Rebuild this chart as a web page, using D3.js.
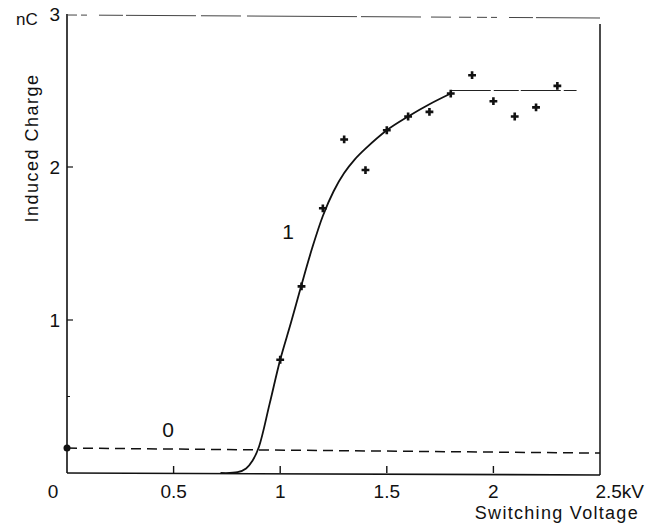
<!DOCTYPE html>
<html lang="en">
<head>
  <meta charset="UTF-8">
  <title>Induced Charge vs Switching Voltage</title>
  <script src="https://d3js.org/d3.v7.min.js"></script>
  <style>
    body { margin: 0; background: #fff; }
    text { font-family: "Liberation Sans", Arial, sans-serif; fill: #111; }
  </style>
</head>
<body>
  <div id="chart"></div>
  <script>
    const width = 657;
    const height = 528;

    // measured points (crosses)
    const voltage = [1.0, 1.1, 1.2, 1.3, 1.4, 1.5, 1.6, 1.7, 1.8, 1.9, 2.0, 2.1, 2.2, 2.3];
    const charge  = [0.74, 1.22, 1.73, 2.18, 1.98, 2.24, 2.33, 2.36, 2.48, 2.60, 2.43, 2.33, 2.39, 2.53];

    // fitted curve 1
    const curveX = [0.72, 0.80, 0.84, 0.87, 0.90, 0.95, 1.00, 1.05, 1.10, 1.15, 1.20, 1.25, 1.30, 1.35, 1.40, 1.50, 1.60, 1.70, 1.80];
    const curveY = [0.00, 0.005, 0.03, 0.08, 0.17, 0.45, 0.74, 0.98, 1.23, 1.47, 1.68, 1.84, 1.96, 2.05, 2.12, 2.24, 2.33, 2.41, 2.48];

    // plateau of curve 1
    const plateauX = [1.80, 2.39];
    const plateauY = [2.50, 2.50];

    // dashed baseline 0
    const baseX = [0, 2.5];
    const baseY = [0.163, 0.13];

    const xTicks = [0.5, 1, 1.5, 2];
    const xTickLabels = ["0.5", "1", "1.5", "2"];
    const yTicks = [1, 2];
    const yMinorTicks = [0.5];

    const svg = d3.select("#chart").append("svg")
      .attr("width", width)
      .attr("height", height);

    const x = d3.scaleLinear().domain([0, 2.5]).range([67, 600]);
    const y = d3.scaleLinear().domain([0, 3]).range([473, 14]);

    // frame
    svg.append("line")
      .attr("x1", x(0)).attr("x2", x(0))
      .attr("y1", y(3)).attr("y2", y(0))
      .attr("stroke", "#111").attr("stroke-width", 1.6);
    svg.append("line")
      .attr("x1", x(0)).attr("x2", x(2.5))
      .attr("y1", y(0)).attr("y2", y(0) + 2)
      .attr("stroke", "#111").attr("stroke-width", 1.6);
    svg.append("line")
      .attr("x1", x(2.5)).attr("x2", x(2.5))
      .attr("y1", y(3) + 10).attr("y2", y(0) + 2)
      .attr("stroke", "#111").attr("stroke-width", 1.5);
    // top edge is faint and broken in the scan
    svg.append("line")
      .attr("x1", x(0)).attr("x2", x(2.5))
      .attr("y1", y(3) + 1).attr("y2", y(3) + 4)
      .attr("stroke", "#444").attr("stroke-width", 1)
      .attr("stroke-dasharray", "10 4 6 12 24 3 70 5 40 6 110 4 60 10 20 8 12 6");

    // x ticks
    svg.selectAll(".xtick").data(xTicks).enter().append("line")
      .attr("x1", d => x(d)).attr("x2", d => x(d))
      .attr("y1", y(0)).attr("y2", y(0) - 7)
      .attr("stroke", "#111").attr("stroke-width", 1.4);
    svg.selectAll(".xlab").data(xTicks).enter().append("text")
      .attr("x", d => x(d)).attr("y", 498)
      .attr("text-anchor", "middle")
      .attr("font-size", 19)
      .text((d, i) => xTickLabels[i]);
    svg.append("text").attr("x", 53).attr("y", 498)
      .attr("text-anchor", "middle").attr("font-size", 19).text("0");
    svg.append("text").attr("x", 644).attr("y", 498)
      .attr("text-anchor", "end").attr("font-size", 19).text("2.5kV");
    svg.append("text").attr("x", 639).attr("y", 519)
      .attr("text-anchor", "end").attr("font-size", 18)
      .attr("letter-spacing", 1.3).text("Switching Voltage");

    // y ticks
    svg.selectAll(".ytick").data(yTicks).enter().append("line")
      .attr("x1", x(0)).attr("x2", x(0) + 6)
      .attr("y1", d => y(d)).attr("y2", d => y(d))
      .attr("stroke", "#111").attr("stroke-width", 1.2);
    svg.selectAll(".ymin").data(yMinorTicks).enter().append("line")
      .attr("x1", x(0)).attr("x2", x(0) + 3)
      .attr("y1", d => y(d)).attr("y2", d => y(d))
      .attr("stroke", "#111").attr("stroke-width", 1);
    svg.selectAll(".ylab").data([1, 2, 3]).enter().append("text")
      .attr("x", 60).attr("y", d => y(d) + 7)
      .attr("text-anchor", "end").attr("font-size", 19)
      .text(d => d);
    svg.append("text").attr("x", 16).attr("y", 25)
      .attr("font-size", 17).text("nC");
    svg.append("text")
      .attr("transform", "translate(38,148) rotate(-90)")
      .attr("text-anchor", "middle").attr("font-size", 18)
      .attr("letter-spacing", 1.5).text("Induced Charge");

    // dashed baseline "0"
    const line = d3.line().x(d => x(d[0])).y(d => y(d[1]));
    svg.append("path")
      .attr("d", line(d3.zip(baseX, baseY)))
      .attr("fill", "none").attr("stroke", "#111")
      .attr("stroke-width", 1.5).attr("stroke-dasharray", "10 6");
    svg.append("circle")
      .attr("cx", x(baseX[0])).attr("cy", y(baseY[0])).attr("r", 3.5)
      .attr("fill", "#111");

    // curve 1
    const smooth = d3.line().x(d => x(d[0])).y(d => y(d[1])).curve(d3.curveCatmullRom.alpha(0.5));
    svg.append("path")
      .attr("d", smooth(d3.zip(curveX, curveY)))
      .attr("fill", "none").attr("stroke", "#111").attr("stroke-width", 1.8);
    svg.append("path")
      .attr("d", line(d3.zip(plateauX, plateauY)))
      .attr("fill", "none").attr("stroke", "#222").attr("stroke-width", 1.1)
      .attr("stroke-dasharray", "40 3 25 2");

    // crosses
    svg.selectAll(".pt").data(d3.zip(voltage, charge)).enter().append("path")
      .attr("transform", d => `translate(${x(d[0])},${y(d[1])})`)
      .attr("d", d3.symbol(d3.symbolCross).size(34))
      .attr("fill", "#111");

    // curve labels
    svg.append("text").attr("x", 288).attr("y", 239)
      .attr("text-anchor", "middle").attr("font-size", 21).text("1");
    svg.append("text").attr("x", 168).attr("y", 437)
      .attr("text-anchor", "middle").attr("font-size", 21).text("0");
  </script>
</body>
</html>
